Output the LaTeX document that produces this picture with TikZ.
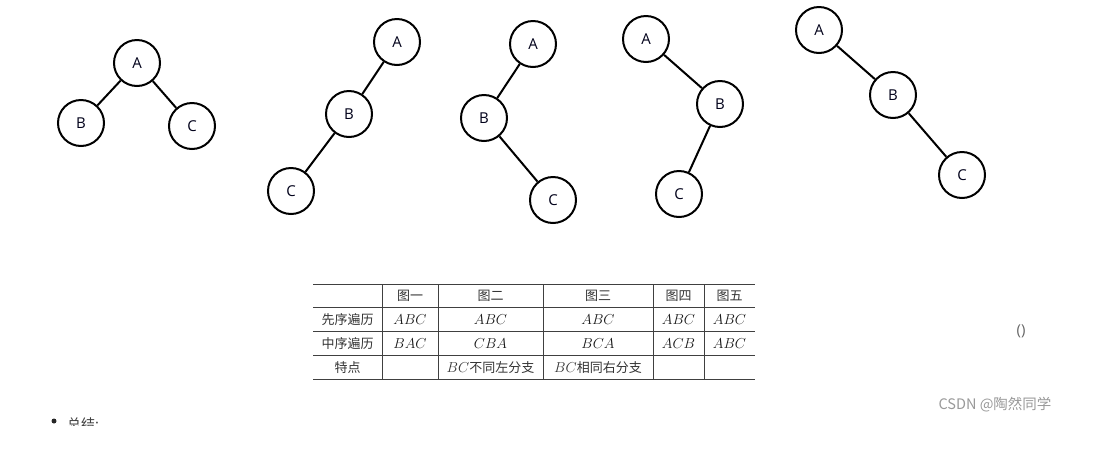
\documentclass[tikz,border=0pt]{standalone}
\usepackage{fontspec}
\setmainfont{Open Sans}
\newfontfamily\cjk{Noto Sans CJK SC}
\newfontfamily\lsans{Open Sans}
\begin{document}
\begin{tikzpicture}[x=1pt,y=-1pt,
  tn/.style={circle,draw=black,line width=2pt,minimum size=46pt,inner sep=0pt,font=\lsans\fontsize{15}{17}\selectfont,text=black!90!blue},
  te/.style={line width=2pt,black},
  tl/.style={line width=0.8pt,black!75},
  cell/.style={inner sep=0pt,font=\cjk\fontsize{13}{15}\selectfont,text=black!80},
  mcell/.style={inner sep=0pt,font=\fontsize{15}{17}\selectfont,text=black!90}]
\useasboundingbox (0,0) rectangle (1093,459);
% tree 1
\node[tn] (a1) at (137,63) {A};
\node[tn] (b1) at (81,123) {B};
\node[tn] (c1) at (192,126) {C};
\draw[te] (a1) -- (b1);
\draw[te] (a1) -- (c1);
% tree 2
\node[tn] (a2) at (397,42) {A};
\node[tn] (b2) at (349,114) {B};
\node[tn] (c2) at (291,191) {C};
\draw[te] (a2) -- (b2);
\draw[te] (b2) -- (c2);
% tree 3
\node[tn] (a3) at (533,44) {A};
\node[tn] (b3) at (484,118) {B};
\node[tn] (c3) at (553,200) {C};
\draw[te] (a3) -- (b3);
\draw[te] (b3) -- (c3);
% tree 4
\node[tn] (a4) at (646,39) {A};
\node[tn] (b4) at (720,104) {B};
\node[tn] (c4) at (679,194) {C};
\draw[te] (a4) -- (b4);
\draw[te] (b4) -- (c4);
% tree 5
\node[tn] (a5) at (819,30) {A};
\node[tn] (b5) at (893,95) {B};
\node[tn] (c5) at (962,175) {C};
\draw[te] (a5) -- (b5);
\draw[te] (b5) -- (c5);
% table lines
\foreach \yy in {284.5,307.5,331.5,355.5,379.5} \draw[tl] (313,\yy) -- (755,\yy);
\foreach \xx in {382,438,543,653,704} \draw[tl] (\xx,284.5) -- (\xx,379.5);
% header
\node[cell] (h1) at (410,295.5) {图一};
\node[cell] (h2) at (490.5,295.5) {图二};
\node[cell] (h3) at (598,295.5) {图三};
\node[cell] (h4) at (678.5,295.5) {图四};
\node[cell] (h5) at (729.5,295.5) {图五};
% row 1
\node[cell] (r1) at (347.5,319.5) {先序遍历};
\node[mcell] (r1a) at (410,319.5) {$ABC$};
\node[mcell] (r1b) at (490.5,319.5) {$ABC$};
\node[mcell] (r1c) at (598,319.5) {$ABC$};
\node[mcell] (r1d) at (678.5,319.5) {$ABC$};
\node[mcell] (r1e) at (729.5,319.5) {$ABC$};
% row 2
\node[cell] (r2) at (347.5,343.5) {中序遍历};
\node[mcell] (r2a) at (410,343.5) {$BAC$};
\node[mcell] (r2b) at (490.5,343.5) {$CBA$};
\node[mcell] (r2c) at (598,343.5) {$BCA$};
\node[mcell] (r2d) at (678.5,343.5) {$ACB$};
\node[mcell] (r2e) at (729.5,343.5) {$ABC$};
% row 3
\node[cell] (r3) at (347.5,367.5) {特点};
\node[cell] (r3b) at (490.5,367.5) {{\fontsize{15}{17}\selectfont$BC$}不同左分支};
\node[cell] (r3c) at (598,367.5) {{\fontsize{15}{17}\selectfont$BC$}相同右分支};
% extras
\node[inner sep=0pt,font=\lsans\fontsize{15}{17}\selectfont,text=black!60] (par) at (1021,331) {()};
\node[inner sep=0pt,font=\cjk\fontsize{14.5}{16}\selectfont,text=black!40] (wm) at (995,405) {CSDN @陶然同学};
\node[circle,fill=black!85,inner sep=0pt,minimum size=5pt] (bul) at (54,421) {};
\begin{scope}
\clip (0,0) rectangle (1093,425);
\node[inner sep=0pt,anchor=west,font=\cjk\fontsize{14}{16}\selectfont,text=black!75] (sum) at (67,424) {总结:};
\end{scope}
\end{tikzpicture}
\end{document}
